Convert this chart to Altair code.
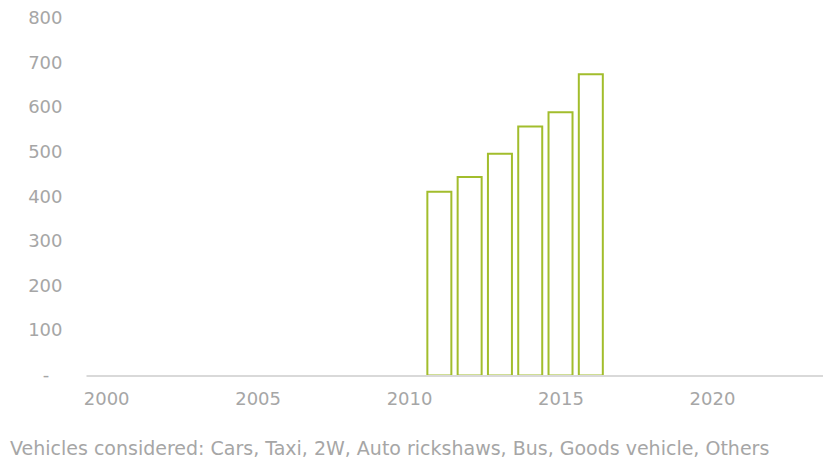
import altair as alt
import pandas as pd

years = [2011, 2012, 2013, 2014, 2015, 2016]
values = [412, 445, 497, 558, 590, 675]
x_ticks = [2000, 2005, 2010, 2015, 2020]
y_ticks = [0, 100, 200, 300, 400, 500, 600, 700, 800]
caption = "Vehicles considered: Cars, Taxi, 2W, Auto rickshaws, Bus, Goods vehicle, Others"

FONT = "DejaVu Sans"
GRAY = "#A6A6A6"
GREEN = "#A2BD2C"

df = pd.DataFrame({"year": years, "value": values})

bars = alt.Chart(df).mark_bar(
    fill="white", stroke=GREEN, strokeWidth=2, size=24
).encode(
    x=alt.X("year:Q",
            scale=alt.Scale(domain=[1999.5, 2023.5], nice=False, zero=False),
            axis=alt.Axis(values=x_ticks, format="d", title=None, grid=False,
                          ticks=False, domainColor="#D9D9D9", domainWidth=2,
                          labelColor=GRAY, labelFont=FONT, labelFontSize=18,
                          labelPadding=15, zindex=1)),
    y=alt.Y("value:Q",
            scale=alt.Scale(domain=[0, 800], nice=False),
            axis=alt.Axis(values=y_ticks, title=None, grid=False, ticks=False,
                          domain=False, labelColor=GRAY, labelFont=FONT,
                          labelFontSize=18, labelPadding=24,
                          labelExpr="datum.value == 0 ? '-\u2800' : datum.label")),
)

cap = alt.Chart(pd.DataFrame({"t": [caption]})).mark_text(
    align="left", baseline="alphabetic", font=FONT, fontSize=19, color=GRAY
).encode(
    text="t:N",
    x=alt.value(-76),
    y=alt.value(436),
)

chart = alt.layer(bars, cap).properties(
    width=737, height=357,
    autosize=alt.AutoSizeParams(type="none"),
    padding={"left": 78, "top": 10.5, "right": 0, "bottom": 90},
).configure_view(stroke=None)

chart.save("out.html", embed_options={"renderer": "svg", "actions": False})
